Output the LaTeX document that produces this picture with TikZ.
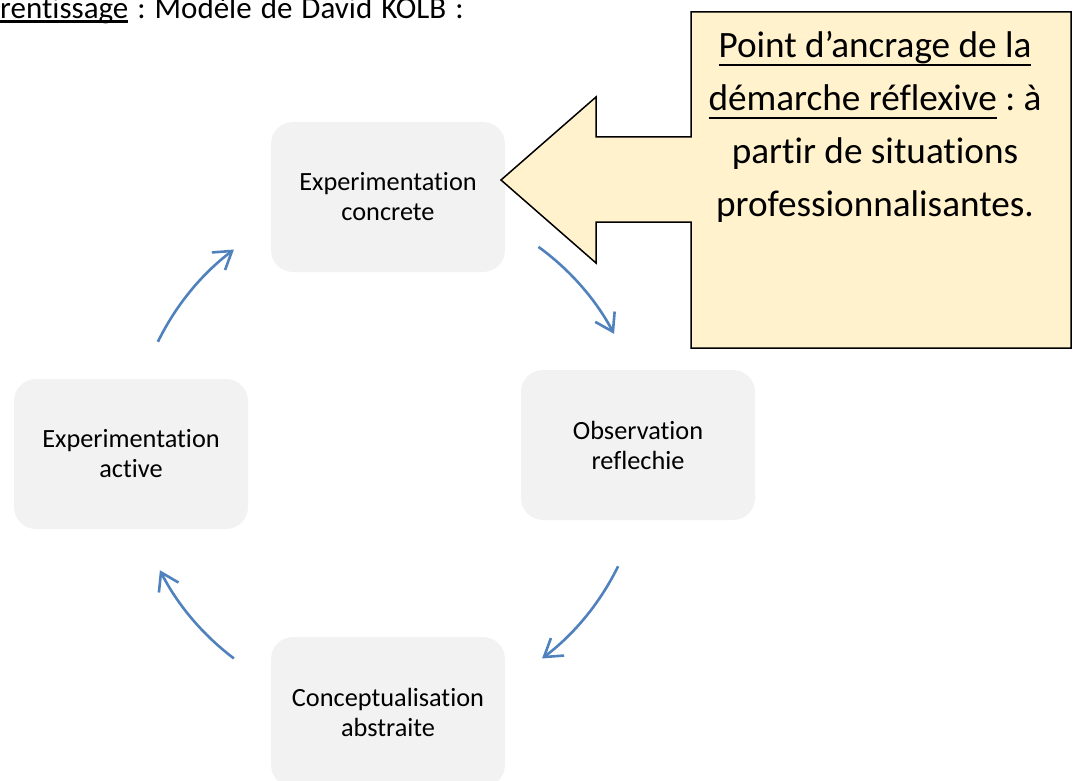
\documentclass[tikz,border=0pt]{standalone}
\usepackage{fontspec}
\setmainfont{Carlito}[Ligatures=NoCommon]
\usepackage{xcolor}
\usepackage{tikz}
\usetikzlibrary{calc, arrows.meta, positioning}
\definecolor{stagegray}{HTML}{F2F2F2}
\definecolor{cycleblue}{HTML}{4F81BD}
\definecolor{anchoryellow}{HTML}{FFF2CC}
\frenchspacing
% souligne : #1 = descente, #2 = epaisseur, #3 = texte
\newcommand{\ulbox}[3]{\leavevmode\setbox0=\hbox{#3}\rlap{\rule[-#1]{\wd0}{#2}}\box0\relax}
\tikzset{
    stagenode/.style = {rectangle, rounded corners=22pt, fill=stagegray, draw=none, inner sep=0pt,
      minimum width=234pt, minimum height=150pt, node distance=0em, align=center,
      font=\fontsize{26.3}{30}\selectfont},
    headnode/.style = {draw=none, fill=none, inner sep=0pt, font=\fontsize{31}{36}\selectfont},
    anchornode/.style = {draw=none, fill=none, inner sep=0pt, align=center,
      font=\fontsize{37.2}{53}\selectfont},
    anchorshape/.style = {draw=black, fill=anchoryellow, line width=1.5pt, line join=miter},
    cyclearrow/.style = {cycleblue, line width=2.6pt, -{Straight Barb[length=17pt, width=22pt]}}
}

\begin{document}
\begin{tikzpicture}[x=1pt, y=-1pt]
    \useasboundingbox (0,0) rectangle (1073,781);
    \clip (0,0) rectangle (1073,781);

    \node [name=head, headnode, anchor=base west] at (0,18.5)
        {\spaceskip=9pt\relax\ulbox{5pt}{3pt}{rentissage} : Modèle de David KOLB :};

    % cycle de Kolb
    \coordinate (cyc) at (388,454);

    \node [name=ce, stagenode, above of = cyc, yshift=257pt] {Experimentation\\concrete};
    \node [name=or, stagenode, right of = cyc, xshift=250pt, yshift=9pt] {Observation\\reflechie};
    \node [name=ca, stagenode, below of = cyc, yshift=-258pt] {Conceptualisation\\abstraite};
    \node [name=ea, stagenode, left of = cyc, xshift=-257pt] {Experimentation\\active};

    \draw [cyclearrow] ([shift={(-54:256)}]cyc) arc [start angle=-54, end angle=-28, radius=256];
    \draw [cyclearrow] ([shift={(26:256)}]cyc) arc [start angle=26, end angle=53, radius=256];
    \draw [cyclearrow] ([shift={(127:256)}]cyc) arc [start angle=127, end angle=153, radius=256];
    \draw [cyclearrow] ([shift={(206:256)}]cyc) arc [start angle=206, end angle=233, radius=256];

    % fleche du point d'ancrage
    \draw [anchorshape] (691,12) -- (1071,12) -- (1071,348) -- (691,348) -- (691,222) -- (596,222)
        -- (596,263) -- (501,180) -- (596,97) -- (596,137) -- (691,137) -- cycle;
    \node [name=ancrage, anchornode, anchor=base] at (875,216)
        {\ulbox{9.2pt}{2.3pt}{Point d’ancrage de la}\\\ulbox{9.2pt}{2.3pt}{démarche réflexive} : à\\partir de situations\\professionnalisantes.};
\end{tikzpicture}
\end{document}
